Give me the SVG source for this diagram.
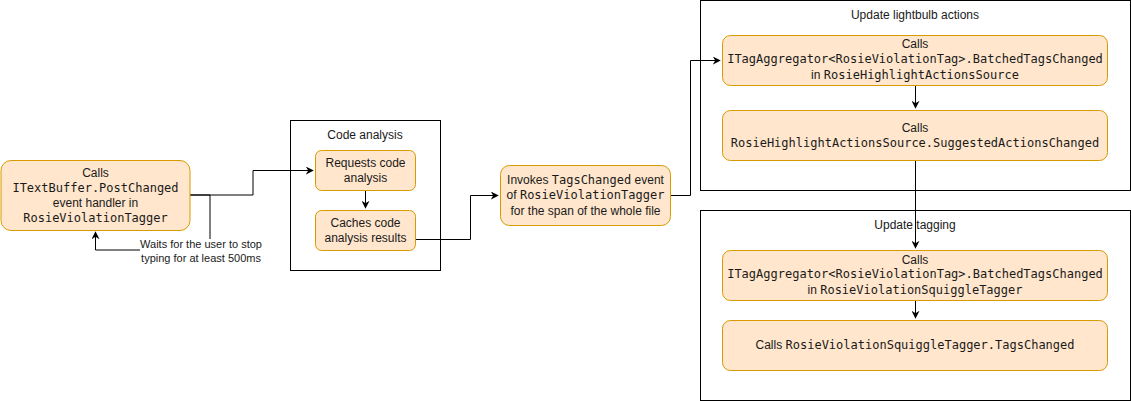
<svg xmlns="http://www.w3.org/2000/svg" width="1131" height="401" viewBox="0 0 1131 401">
<defs>
<marker id="arr" viewBox="0 0 10 10" refX="9" refY="5" markerWidth="8" markerHeight="8" markerUnits="userSpaceOnUse" orient="auto">
<path d="M0,0 L10,5 L0,10 L3,5 Z" fill="#000"/>
</marker>
</defs>
<style>
.node{fill:#ffe6cc;stroke:#d79b00;stroke-width:1}
.cont{fill:#fff;stroke:#000;stroke-width:1}
.t{font-family:"Liberation Sans",Arial,sans-serif;font-size:12px;fill:#1a1a1a;text-anchor:middle}
.m{font-family:"DejaVu Sans Mono",monospace;font-size:12px}
.lbl{font-family:"Liberation Sans",Arial,sans-serif;font-size:11px;fill:#1a1a1a;text-anchor:middle}
.e{fill:none;stroke:#000;stroke-width:1}
</style>
<rect width="1131" height="401" fill="#fff"/>

<g id="code-analysis-container">
<rect class="cont" x="290.5" y="120.5" width="150" height="150"/>
<text class="t" x="365" y="139">Code analysis</text>
</g>
<g id="lightbulb-container">
<rect class="cont" x="700.5" y="0.5" width="430" height="190"/>
<text class="t" x="915" y="19">Update lightbulb actions</text>
</g>
<g id="tagging-container">
<rect class="cont" x="700.5" y="210.5" width="430" height="190"/>
<text class="t" x="915" y="229">Update tagging</text>
</g>

<g id="connectors">
<path class="e" d="M190,195 L253,195 L253,170.5 L313,170.5" marker-end="url(#arr)"/>
<path class="e" d="M190,195 L210,195 L210,250 L95.5,250 L95.5,232" marker-end="url(#arr)"/>
<path class="e" d="M365.5,190 L365.5,208" marker-end="url(#arr)"/>
<path class="e" d="M415,239.5 L470.5,239.5 L470.5,195.5 L498,195.5" marker-end="url(#arr)"/>
<path class="e" d="M670,195.5 L690.5,195.5 L690.5,60.5 L720,60.5" marker-end="url(#arr)"/>
<path class="e" d="M915.5,85 L915.5,108" marker-end="url(#arr)"/>
<path class="e" d="M915.5,160 L915.5,248" marker-end="url(#arr)"/>
<path class="e" d="M915.5,300 L915.5,318" marker-end="url(#arr)"/>
<rect x="140" y="239" width="124" height="28" fill="#fff"/>
<text class="lbl" x="201" y="248">Waits for the user to stop</text>
<text class="lbl" x="201" y="262">typing for at least 500ms</text>
</g>

<g id="node-postchanged">
<rect class="node" x="1" y="160.5" width="189" height="70" rx="10"/>
<text class="t" x="95.5" y="177">Calls</text>
<text class="t" x="95.5" y="192"><tspan class="m">ITextBuffer.PostChanged</tspan></text>
<text class="t" x="95.5" y="207">event handler in</text>
<text class="t" x="95.5" y="222"><tspan class="m">RosieViolationTagger</tspan></text>
</g>

<g id="node-requests">
<rect class="node" x="315.5" y="150.5" width="100" height="40" rx="6"/>
<text class="t" x="365.5" y="167">Requests code</text>
<text class="t" x="365.5" y="182">analysis</text>
</g>

<g id="node-caches">
<rect class="node" x="315.5" y="210.5" width="100" height="40" rx="6"/>
<text class="t" x="365.5" y="227">Caches code</text>
<text class="t" x="365.5" y="242">analysis results</text>
</g>

<g id="node-invokes">
<rect class="node" x="500.5" y="165.5" width="170" height="60" rx="9"/>
<text class="t" x="585.5" y="184">Invokes <tspan class="m">TagsChanged</tspan> event</text>
<text class="t" x="585.5" y="199">of <tspan class="m">RosieViolationTagger</tspan></text>
<text class="t" x="585.5" y="215">for the span of the whole file</text>
</g>

<g id="node-batched-actions">
<rect class="node" x="722.5" y="35.5" width="385" height="50" rx="8"/>
<text class="t" x="915" y="48">Calls</text>
<text class="t" x="915" y="63"><tspan class="m">ITagAggregator&lt;RosieViolationTag&gt;.BatchedTagsChanged</tspan></text>
<text class="t" x="915" y="79">in <tspan class="m">RosieHighlightActionsSource</tspan></text>
</g>

<g id="node-suggested">
<rect class="node" x="722.5" y="110.5" width="385" height="50" rx="8"/>
<text class="t" x="915" y="132">Calls</text>
<text class="t" x="915" y="147"><tspan class="m">RosieHighlightActionsSource.SuggestedActionsChanged</tspan></text>
</g>

<g id="node-batched-squiggle">
<rect class="node" x="722.5" y="250.5" width="385" height="50" rx="8"/>
<text class="t" x="915" y="264">Calls</text>
<text class="t" x="915" y="278"><tspan class="m">ITagAggregator&lt;RosieViolationTag&gt;.BatchedTagsChanged</tspan></text>
<text class="t" x="915" y="294">in <tspan class="m">RosieViolationSquiggleTagger</tspan></text>
</g>

<g id="node-tagschanged">
<rect class="node" x="722.5" y="320.5" width="385" height="50" rx="8"/>
<text class="t" x="915" y="349">Calls <tspan class="m">RosieViolationSquiggleTagger.TagsChanged</tspan></text>
</g>
</svg>
